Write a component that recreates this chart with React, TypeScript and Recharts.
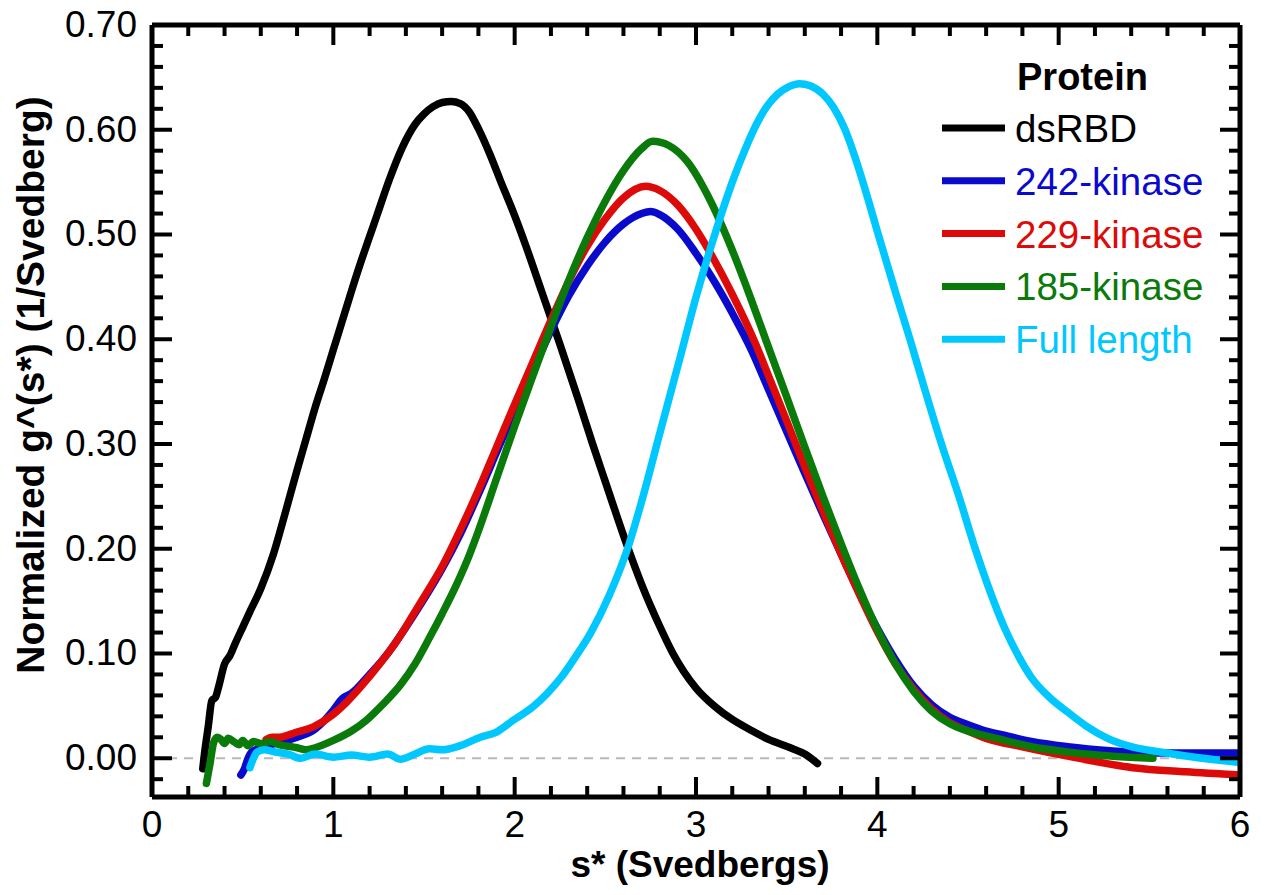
import React from "react";
import { LineChart, Line, XAxis, YAxis, ReferenceLine, Legend } from "recharts";

const FONT = '"Liberation Sans", Arial, Helvetica, sans-serif';

// tick positions (major ones get labels)
const X_TICKS = [
  0, 0.2, 0.4, 0.6, 0.8, 1, 1.2, 1.4, 1.6, 1.8, 2, 2.2, 2.4, 2.6, 2.8, 3,
  3.2, 3.4, 3.6, 3.8, 4, 4.2, 4.4, 4.6, 4.8, 5, 5.2, 5.4, 5.6, 5.8, 6,
];
const Y_TICKS = [
  -0.02, 0, 0.02, 0.04, 0.06, 0.08, 0.1, 0.12, 0.14, 0.16, 0.18, 0.2, 0.22,
  0.24, 0.26, 0.28, 0.3, 0.32, 0.34, 0.36, 0.38, 0.4, 0.42, 0.44, 0.46, 0.48,
  0.5, 0.52, 0.54, 0.56, 0.58, 0.6, 0.62, 0.64, 0.66, 0.68, 0.7,
];

// dsRBD
const dsrbdS = [
  0.28, 0.29, 0.31, 0.33, 0.35, 0.37, 0.4, 0.43, 0.46, 0.5, 0.54, 0.6, 0.67,
  0.72, 0.76, 0.8, 0.85, 0.9, 0.95, 1.0, 1.05, 1.1, 1.16, 1.2, 1.24, 1.31,
  1.38, 1.45, 1.5, 1.55, 1.6, 1.65, 1.7, 1.75, 1.8, 1.86, 1.92, 2.0, 2.06,
  2.15, 2.25, 2.35, 2.43, 2.5, 2.62, 2.7, 2.8, 2.87, 3.0, 3.1, 3.2, 3.3, 3.4,
  3.52, 3.6, 3.67,
];
const dsrbdG = [
  -0.01, 0.005, 0.03, 0.055, 0.058, 0.07, 0.09, 0.098, 0.11, 0.125, 0.14,
  0.162, 0.195, 0.225, 0.25, 0.275, 0.305, 0.335, 0.362, 0.39, 0.418, 0.446,
  0.478, 0.498, 0.518, 0.553, 0.583, 0.605, 0.615, 0.622, 0.626, 0.627, 0.625,
  0.617, 0.601, 0.578, 0.552, 0.518, 0.49, 0.445, 0.395, 0.343, 0.3, 0.264,
  0.203, 0.166, 0.126, 0.101, 0.067, 0.05, 0.037, 0.027, 0.018, 0.01, 0.004,
  -0.005,
];

// 242-kinase
const k242S = [
  0.49, 0.51, 0.53, 0.55, 0.6, 0.7, 0.8, 0.9, 0.95, 1.0, 1.05, 1.1, 1.2, 1.3,
  1.4, 1.5, 1.6, 1.7, 1.8, 1.9, 2.0, 2.1, 2.2, 2.3, 2.4, 2.5, 2.6, 2.7, 2.75,
  2.8, 2.9, 3.0, 3.08, 3.2, 3.31, 3.4, 3.5, 3.6, 3.7, 3.8, 3.9, 4.0, 4.1, 4.2,
  4.3, 4.4, 4.5, 4.6, 4.7, 4.85, 5.05, 5.3, 5.5, 5.75, 6.0,
];
const k242G = [
  -0.016, -0.01, 0.0, 0.006, 0.01, 0.015, 0.02, 0.028, 0.036, 0.046, 0.057,
  0.062, 0.08, 0.1, 0.125, 0.152, 0.181, 0.214, 0.252, 0.292, 0.332, 0.37,
  0.408, 0.442, 0.47, 0.493, 0.51, 0.52, 0.522, 0.519, 0.505, 0.482, 0.461,
  0.425, 0.388, 0.352, 0.312, 0.272, 0.233, 0.195, 0.158, 0.124, 0.094, 0.069,
  0.051, 0.039, 0.032, 0.026, 0.022, 0.016, 0.011, 0.007, 0.005, 0.005, 0.005,
];

// 229-kinase
const k229S = [
  0.63, 0.66, 0.7, 0.75, 0.8, 0.89, 1.0, 1.07, 1.15, 1.26, 1.35, 1.44, 1.5,
  1.6, 1.7, 1.8, 1.9, 2.0, 2.1, 2.2, 2.3, 2.4, 2.5, 2.6, 2.72, 2.8, 2.9, 3.0,
  3.08, 3.2, 3.33, 3.4, 3.5, 3.6, 3.7, 3.8, 3.9, 4.0, 4.1, 4.2, 4.3, 4.4, 4.5,
  4.6, 4.8, 5.05, 5.2, 5.41, 5.7, 6.0,
];
const k229G = [
  0.018, 0.02, 0.02, 0.022, 0.025, 0.03, 0.042, 0.053, 0.068, 0.091, 0.112,
  0.137, 0.154, 0.183, 0.218, 0.256, 0.297, 0.338, 0.378, 0.418, 0.456, 0.489,
  0.515, 0.535, 0.546, 0.542, 0.528, 0.505, 0.482, 0.443, 0.395, 0.365, 0.322,
  0.278, 0.236, 0.195, 0.157, 0.121, 0.09, 0.066, 0.047, 0.034, 0.026, 0.019,
  0.011, 0.002, -0.003, -0.009, -0.013, -0.016,
];

// 185-kinase
const k185S = [
  0.3, 0.32, 0.34, 0.36, 0.38, 0.4, 0.42, 0.45, 0.48, 0.5, 0.53, 0.56, 0.6,
  0.65, 0.7, 0.8, 0.85, 0.9, 1.0, 1.1, 1.18, 1.27, 1.37, 1.45, 1.53, 1.6,
  1.68, 1.75, 1.8, 1.9, 2.0, 2.1, 2.2, 2.3, 2.4, 2.5, 2.6, 2.7, 2.76, 2.85,
  2.95, 3.08, 3.2, 3.3, 3.39, 3.5, 3.6, 3.7, 3.8, 3.9, 4.0, 4.1, 4.2, 4.3,
  4.4, 4.5, 4.68, 4.85, 5.05, 5.3, 5.52,
];
const k185G = [
  -0.024, -0.005, 0.015, 0.02, 0.018, 0.014, 0.019, 0.016, 0.013, 0.017,
  0.012, 0.016, 0.014, 0.016, 0.013, 0.01, 0.008, 0.01, 0.017, 0.026, 0.036,
  0.051, 0.07, 0.09, 0.115, 0.138, 0.166, 0.194, 0.217, 0.267, 0.317, 0.365,
  0.412, 0.457, 0.497, 0.532, 0.561, 0.582, 0.589, 0.585, 0.57, 0.532, 0.485,
  0.44, 0.397, 0.345, 0.297, 0.25, 0.205, 0.162, 0.123, 0.09, 0.064, 0.045,
  0.033, 0.026, 0.018, 0.011, 0.006, 0.002, 0.0,
];

// Full length
const fullS = [
  0.54, 0.56, 0.58, 0.62, 0.68, 0.75, 0.82, 0.9, 1.0, 1.1, 1.2, 1.3, 1.37,
  1.45, 1.53, 1.6, 1.7, 1.81, 1.9, 1.99, 2.1, 2.18, 2.26, 2.34, 2.42, 2.52,
  2.63, 2.7, 2.8, 2.91, 3.0, 3.12, 3.2, 3.28, 3.33, 3.39, 3.45, 3.51, 3.57,
  3.63, 3.7, 3.76, 3.82, 3.89, 3.95, 4.0, 4.1, 4.18, 4.26, 4.35, 4.45, 4.54,
  4.62, 4.7, 4.78, 4.85, 4.95, 5.05, 5.15, 5.27, 5.4, 5.56, 5.75, 6.0,
];
const fullG = [
  -0.009, 0.0, 0.006, 0.008, 0.006, 0.004, 0.0, 0.004, 0.001, 0.003, 0.001,
  0.004, -0.001, 0.004, 0.009, 0.008, 0.012, 0.02, 0.025, 0.036, 0.049, 0.062,
  0.078, 0.098, 0.12, 0.155, 0.204, 0.245, 0.31, 0.381, 0.44, 0.509, 0.55,
  0.585, 0.604, 0.622, 0.634, 0.641, 0.644, 0.642, 0.634, 0.621, 0.601, 0.567,
  0.533, 0.503, 0.445, 0.4, 0.353, 0.302, 0.25, 0.2, 0.16, 0.125, 0.097,
  0.077, 0.058, 0.044, 0.031, 0.019, 0.011, 0.006, 0.001, -0.004,
];

const zip = (xs: number[], ys: number[]) => xs.map((x, i) => ({ x, y: ys[i] }));

const series = [
  { name: "dsRBD", color: "#000000", data: zip(dsrbdS, dsrbdG) },
  { name: "242-kinase", color: "#0a0acc", data: zip(k242S, k242G) },
  { name: "229-kinase", color: "#dd0a0a", data: zip(k229S, k229G) },
  { name: "185-kinase", color: "#0a7a0a", data: zip(k185S, k185G) },
  { name: "Full length", color: "#00c8ff", data: zip(fullS, fullG) },
];

const FS = 37;
const MAJOR = 20;
const MINOR = 11;
const TICK_W = 4;

const isMajorX = (v: number) => Math.abs(v - Math.round(v)) < 1e-6;
const isMajorY = (v: number) => Math.abs(v * 10 - Math.round(v * 10)) < 1e-6;

function BottomTick(props: any) {
  const { x, y, payload } = props;
  const major = isMajorX(payload.value);
  return (
    <g>
      <line x1={x} x2={x} y1={y} y2={y - (major ? MAJOR : MINOR)} stroke="#000" strokeWidth={TICK_W} />
      {major && (
        <text x={x} y={y + 40} textAnchor="middle" fontSize={FS} fontFamily={FONT} fill="#000">
          {Math.round(payload.value)}
        </text>
      )}
    </g>
  );
}

function TopTick(props: any) {
  const { x, y, payload } = props;
  const major = isMajorX(payload.value);
  return <line x1={x} x2={x} y1={y} y2={y + (major ? MAJOR : MINOR)} stroke="#000" strokeWidth={TICK_W} />;
}

function LeftTick(props: any) {
  const { x, y, payload } = props;
  const major = isMajorY(payload.value);
  return (
    <g>
      <line x1={x} x2={x + (major ? MAJOR : MINOR)} y1={y} y2={y} stroke="#000" strokeWidth={TICK_W} />
      {major && (
        <text x={x - 15} y={y + 12} textAnchor="end" fontSize={FS} fontFamily={FONT} fill="#000">
          {payload.value.toFixed(2)}
        </text>
      )}
    </g>
  );
}

function RightTick(props: any) {
  const { x, y, payload } = props;
  const major = isMajorY(payload.value);
  return <line x1={x} x2={x - (major ? MAJOR : MINOR)} y1={y} y2={y} stroke="#000" strokeWidth={TICK_W} />;
}

function ProteinLegend() {
  return (
    <svg width={300} height={320}>
      <text x={77} y={40} fontSize={38} fontWeight="bold" fontFamily={FONT} fill="#000">
        Protein
      </text>
      {series.map((s, i) => {
        const base = 92 + i * 52.8;
        return (
          <g key={s.name}>
            <line x1={2} x2={65} y1={base - 14} y2={base - 14} stroke={s.color} strokeWidth={7} />
            <text x={75} y={base} fontSize={38.5} fontFamily={FONT} fill={s.color}>
              {s.name}
            </text>
          </g>
        );
      })}
    </svg>
  );
}

export default function App() {
  // offset by the body margin so the chart covers the whole window
  return (
    <div style={{ width: 1267, height: 895, margin: "-8px 0 0 -8px", fontFamily: FONT }}>
      <LineChart width={1267} height={895} margin={{ top: 0, right: 0, bottom: 0, left: 0 }}>
        <XAxis
          xAxisId={0}
          type="number"
          dataKey="x"
          domain={[0, 6]}
          ticks={X_TICKS}
          interval={0}
          allowDataOverflow
          height={98}
          tickSize={0}
          tickMargin={0}
          tickLine={false}
          axisLine={{ stroke: "#000", strokeWidth: 5 }}
          tick={<BottomTick />}
          label={() => (
            <text x={700} y={877} textAnchor="middle" fontSize={37} fontWeight="bold" fontFamily={FONT} fill="#000">
              s* (Svedbergs)
            </text>
          )}
        />
        <XAxis
          xAxisId="top"
          orientation="top"
          type="number"
          dataKey="x"
          domain={[0, 6]}
          ticks={X_TICKS}
          interval={0}
          allowDataOverflow
          height={25}
          tickSize={0}
          tickMargin={0}
          tickLine={false}
          axisLine={{ stroke: "#000", strokeWidth: 5 }}
          tick={<TopTick />}
        />
        <YAxis
          yAxisId={0}
          type="number"
          domain={[-0.037, 0.7]}
          ticks={Y_TICKS}
          interval={0}
          allowDataOverflow
          width={152}
          tickSize={0}
          tickMargin={0}
          tickLine={false}
          axisLine={{ stroke: "#000", strokeWidth: 5 }}
          tick={<LeftTick />}
          label={() => (
            <text
              transform="rotate(-90)"
              x={-385}
              y={44}
              textAnchor="middle"
              fontSize={39}
              fontWeight="bold"
              fontFamily={FONT}
              fill="#000"
            >
              Normalized g^(s*) (1/Svedberg)
            </text>
          )}
        />
        <YAxis
          yAxisId="right"
          orientation="right"
          type="number"
          domain={[-0.037, 0.7]}
          ticks={Y_TICKS}
          interval={0}
          allowDataOverflow
          width={27}
          tickSize={0}
          tickMargin={0}
          tickLine={false}
          axisLine={{ stroke: "#000", strokeWidth: 5 }}
          tick={<RightTick />}
        />
        <ReferenceLine y={0} stroke="#b8b8b8" strokeWidth={2} strokeDasharray="9 7" />
        {series.map((s) => (
          <Line
            key={s.name}
            data={s.data}
            dataKey="y"
            name={s.name}
            type="monotone"
            stroke={s.color}
            strokeWidth={7.5}
            strokeLinejoin="round"
            strokeLinecap="round"
            dot={false}
            activeDot={false}
            isAnimationActive={false}
          />
        ))}
        <Legend
          layout="vertical"
          align="center"
          verticalAlign="middle"
          wrapperStyle={{ top: 50, left: 940, width: 300 }}
          content={() => <ProteinLegend />}
        />
      </LineChart>
    </div>
  );
}
